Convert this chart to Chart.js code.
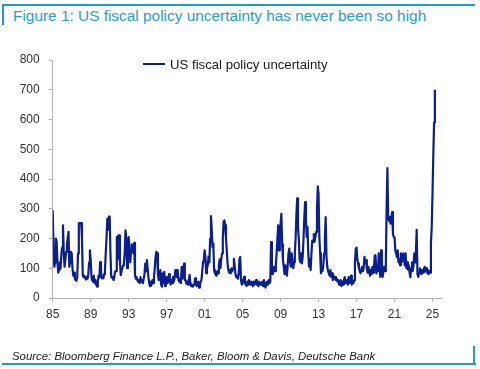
<!DOCTYPE html>
<html><head><meta charset="utf-8">
<script src="https://cdn.jsdelivr.net/npm/chart.js@4/dist/chart.umd.min.js"></script>
<style>
html,body{margin:0;padding:0;background:#fff;}
#wrap{position:relative;width:480px;height:369px;overflow:hidden;font-family:"Liberation Sans",Arial,sans-serif;}
#c{position:absolute;left:0;top:0;}
.bar{position:absolute;background:#1a9ed9;}
#title{position:absolute;left:13px;top:6px;font-size:15.4px;color:#23a0da;white-space:nowrap;line-height:20px;}
#legend{position:absolute;left:143px;top:56px;font-size:13.2px;color:#1a1a1a;white-space:nowrap;display:flex;align-items:center;height:16px;}
#legend .sw{display:inline-block;width:22px;height:2px;background:#0a1e94;margin-right:5px;}
#source{position:absolute;left:12px;top:349px;font-size:11.4px;font-style:italic;color:#222;white-space:nowrap;line-height:14px;}
</style></head>
<body>
<div id="wrap">
  <div class="bar" style="left:2px;top:4px;width:473px;height:2px;"></div>
  <div class="bar" style="left:2px;top:4px;width:2px;height:21px;"></div>
  <div id="title">Figure 1: US fiscal policy uncertainty has never been so high</div>
  <canvas id="c" width="480" height="369"></canvas>
  <div id="legend"><span class="sw"></span><span id="legtext"></span></div>
  <div id="source">Source: Bloomberg Finance L.P., Baker, Bloom &amp; Davis, Deutsche Bank</div>
  <div class="bar" style="left:2px;top:363px;width:474px;height:2px;"></div>
  <div class="bar" style="left:473px;top:346px;width:2px;height:19px;"></div>
</div>
<script>
const seriesLabel = 'US fiscal policy uncertainty';
const startYear = 1985; // first month: January 1985, monthly observations
const fpuMonthly = [
 295,180,105,120,200,190,120,85,95,120,100,150,     // 1985
 170,244,150,105,130,155,180,200,222,105,120,155,   // 1986
 150,100,75,85,65,60,58,70,150,252,250,252,         // 1987
 252,200,77,70,75,68,62,70,65,80,120,160,           // 1988
 130,71,60,55,75,50,60,45,38,55,75,70,              // 1989
 121,95,66,70,66,80,90,150,200,266,230,274,         // 1990
 274,150,71,70,66,60,75,90,90,205,130,211,          // 1991
 211,120,77,90,100,110,120,150,227,200,100,120,     // 1992
 205,170,120,160,180,175,150,185,77,65,70,60,       // 1993
 55,60,50,70,55,60,50,65,80,116,90,127,             // 1994
 100,70,50,40,55,45,60,50,70,100,140,155,           // 1995
 150,80,60,70,94,45,38,83,50,88,40,60,              // 1996
 70,50,55,80,60,45,60,50,70,55,65,94,               // 1997
 94,70,94,60,55,65,50,105,65,90,116,60,             // 1998
 60,48,55,45,60,78,50,40,45,38,42,45,               // 1999
 66,45,40,50,55,35,40,55,60,90,122,130,             // 2000
 160,140,83,100,110,140,120,200,275,230,172,183,    // 2001
 94,83,80,75,90,83,110,130,100,130,150,200,         // 2002
 257,261,245,200,160,116,94,85,94,83,100,90,        // 2003
 100,132,110,80,70,75,65,80,130,138,60,45,          // 2004
 50,60,71,50,45,40,55,45,60,50,45,55,               // 2005
 50,40,55,45,50,60,45,50,40,55,45,50,               // 2006
 45,55,40,60,45,35,50,55,45,60,50,55,               // 2007
 188,90,80,95,105,90,110,150,200,244,160,220,       // 2008
 250,283,180,127,105,80,110,90,75,110,150,166,      // 2009
 120,105,150,127,100,120,150,200,280,335,238,200,   // 2010
 130,120,150,116,140,200,272,322,272,205,238,150,   // 2011
 105,130,94,150,193,188,215,190,205,222,300,375,    // 2012
 350,205,150,83,100,90,110,150,200,272,140,105,     // 2013
 90,83,75,94,71,83,60,75,65,70,60,65,               // 2014
 55,60,45,50,60,40,55,45,60,70,50,55,               // 2015
 60,45,70,50,55,75,45,55,50,60,120,165,             // 2016
 169,130,116,100,90,83,95,105,90,100,138,120,       // 2017
 127,100,85,105,90,75,95,80,105,85,100,143,         // 2018
 143,83,100,90,150,110,71,160,120,71,90,105,        // 2019
 90,110,300,437,272,260,272,250,272,289,216,205,    // 2020
 205,160,150,138,160,120,130,110,150,120,130,150,   // 2021
 130,110,150,100,120,95,110,85,70,100,120,90,       // 2022
 110,150,120,150,229,80,71,85,100,90,80,95,         // 2023
 85,95,105,90,100,85,95,80,90,85,183,238,           // 2024
 350,480,590,700                                    // 2025
];
const tickYears = [1985,1989,1993,1997,2001,2005,2009,2013,2017,2021,2025];
const tickLabels = ['85','89','93','97','01','05','09','13','17','21','25'];
const yTickValues = [0,100,200,300,400,500,600,700,800];

document.getElementById('legtext').textContent = seriesLabel;

const points = fpuMonthly.map((v, i) => ({ x: startYear + i / 12, y: v }));
const axisColor = '#b5b5b5';
const tickFont = { family: '"Liberation Sans", Arial, sans-serif', size: 12 };

new Chart(document.getElementById('c').getContext('2d'), {
  type: 'line',
  data: { datasets: [{
    label: seriesLabel, data: points,
    borderColor: '#0a1e94', borderWidth: 2.2, pointRadius: 0, tension: 0, fill: false,
    borderJoinStyle: 'round'
  }]},
  options: {
    responsive: false, animation: false, devicePixelRatio: 1,
    layout: { padding: { left: 0, right: 38, top: 60, bottom: 51 } },
    plugins: { legend: { display: false }, tooltip: { enabled: false } },
    scales: {
      x: {
        type: 'linear', min: 1985, max: 2026,
        afterBuildTicks: s => { s.ticks = tickYears.map(v => ({ value: v })); },
        afterFit: s => { s.height = 20; },
        grid: { drawOnChartArea: false, drawTicks: true, tickLength: 4, color: axisColor },
        border: { color: axisColor, width: 1 },
        ticks: { autoSkip: false, maxRotation: 0, padding: 5, color: '#333', font: tickFont,
                 callback: (v, i) => tickLabels[i] }
      },
      y: {
        min: 0, max: 800,
        afterBuildTicks: s => { s.ticks = yTickValues.map(v => ({ value: v })); },
        afterFit: s => { s.width = 52.7; },
        grid: { drawOnChartArea: false, drawTicks: true, tickLength: 4, color: axisColor },
        border: { color: axisColor, width: 1 },
        ticks: { padding: 9, color: '#333', font: tickFont }
      }
    }
  }
});
</script>
</body></html>
